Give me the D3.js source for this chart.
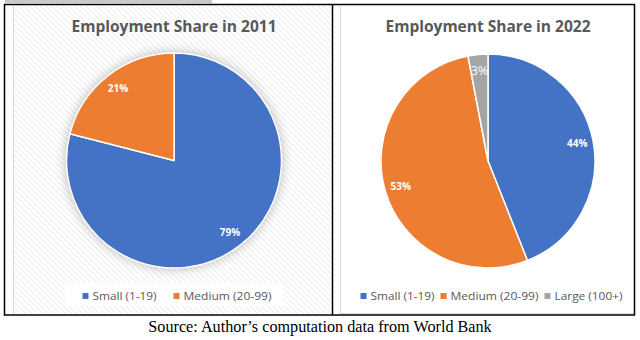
<!DOCTYPE html>
<html>
<head>
<meta charset="utf-8">
<script src="https://cdn.jsdelivr.net/npm/d3@7"></script>
<style>
  html, body { margin: 0; padding: 0; background: #fff; }
  svg { display: block; }
</style>
</head>
<body>
<script>
// ---- data ----
const titles = ["Employment Share in 2011", "Employment Share in 2022"];
const categories2011 = ["Small (1-19)", "Medium (20-99)"];
const values2011 = [79, 21];
const categories2022 = ["Small (1-19)", "Medium (20-99)", "Large (100+)"];
const values2022 = [44, 53, 3];
const seriesColors = ["#4472C4", "#ED7D31", "#A5A5A5"];
const caption = "Source: Author\u2019s computation data from World Bank";

const W = 640, H = 340;
const svg = d3.select("body").append("svg").attr("width", W).attr("height", H);
const defs = svg.append("defs");

// hatch pattern
const pat = defs.append("pattern").attr("id", "hatch").attr("patternUnits", "userSpaceOnUse")
  .attr("width", 4).attr("height", 4).attr("patternTransform", "rotate(-45)");
pat.append("rect").attr("width", 4).attr("height", 4).attr("fill", "#ffffff");
pat.append("line").attr("x1", 0).attr("y1", 0).attr("x2", 0).attr("y2", 4)
  .attr("stroke", "#e6e6e6").attr("stroke-width", 1.4);

const shadow = defs.append("filter").attr("id", "glow")
  .attr("x", "-30%").attr("y", "-30%").attr("width", "160%").attr("height", "160%");
shadow.append("feDropShadow").attr("dx", 0).attr("dy", 0).attr("stdDeviation", 6)
  .attr("flood-color", "#000").attr("flood-opacity", 0.3);

svg.append("rect").attr("width", W).attr("height", H).attr("fill", "#fff");

// top grey strip
svg.append("rect").attr("x", 5).attr("y", 0).attr("width", 207).attr("height", 3).attr("fill", "#c9c9c9");

// left panel background
svg.append("rect").attr("x", 13).attr("y", 5).attr("width", 319).attr("height", 309).attr("fill", "url(#hatch)");
svg.append("line").attr("x1", 13.5).attr("x2", 13.5).attr("y1", 5).attr("y2", 314)
  .attr("stroke", "#d9d9d9").attr("stroke-width", 1);

// right panel frame
svg.append("line").attr("x1", 340.5).attr("x2", 340.5).attr("y1", 5).attr("y2", 313.5)
  .attr("stroke", "#d9d9d9").attr("stroke-width", 1);
svg.append("line").attr("x1", 340).attr("x2", 634).attr("y1", 313.5).attr("y2", 313.5)
  .attr("stroke", "#d9d9d9").attr("stroke-width", 1);

const font = "'Open Sans', 'DejaVu Sans', sans-serif";

function drawChart(cfg) {
  const g = svg.append("g");
  // title
  g.append("text").attr("x", cfg.cx).attr("y", 32).attr("text-anchor", "middle")
    .attr("font-family", font).attr("font-weight", 700).attr("font-size", 16.5)
    .attr("fill", "#595959").attr("textLength", 205).attr("lengthAdjust", "spacingAndGlyphs")
    .text(cfg.title);

  const pie = d3.pie().sort(null).value(d => d);
  const arcs = pie(cfg.values);
  const arc = d3.arc().innerRadius(0).outerRadius(cfg.r);
  const labelArc = d3.arc().innerRadius(cfg.r * 0.85).outerRadius(cfg.r * 0.85);
  const pg = g.append("g").attr("transform", `translate(${cfg.cx},${cfg.cy})`);
  if (cfg.shadow) {
    pg.append("circle").attr("r", cfg.r).attr("fill", seriesColors[0]).attr("filter", "url(#glow)");
  }
  pg.selectAll("path.slice").data(arcs).join("path").attr("class", "slice")
    .attr("d", arc).attr("fill", (d, i) => seriesColors[i])
    .attr("stroke", "#fff").attr("stroke-width", 1.5).attr("stroke-linejoin", "round");
  const total = d3.sum(cfg.values);
  pg.selectAll("text.lbl").data(arcs).join("text").attr("class", "lbl")
    .attr("transform", d => `translate(${labelArc.centroid(d)})`)
    .attr("text-anchor", "middle").attr("dy", "0.35em")
    .attr("font-family", font)
    .attr("font-weight", d => d.data / total < 0.05 ? 400 : 700)
    .attr("font-size", d => d.data / total < 0.05 ? 12.5 : 10)
    .attr("fill", "#fff")
    .text(d => Math.round(d.data / total * 100) + "%");

  // legend
  if (cfg.legendBox) {
    g.append("rect").attr("x", cfg.legendBox[0]).attr("y", 283)
      .attr("width", cfg.legendBox[1] - cfg.legendBox[0]).attr("height", 23)
      .attr("fill", "#fff").attr("opacity", 0.92);
  }
  const widths = cfg.categories.map(c => c.startsWith("Small") ? 64 : c.startsWith("Medium") ? 88 : 68);
  const sq = 6, gapT = 4;
  let total_w = 0;
  widths.forEach((w, i) => { total_w += sq + gapT + w + (i < widths.length - 1 ? cfg.spacing : 0); });
  let x = cfg.legendCx - total_w / 2;
  cfg.categories.forEach((c, i) => {
    g.append("rect").attr("x", x).attr("y", 293).attr("width", sq).attr("height", sq).attr("fill", seriesColors[i]);
    g.append("text").attr("x", x + sq + gapT).attr("y", 300)
      .attr("font-family", font).attr("font-size", 11).attr("fill", "#595959")
      .attr("textLength", widths[i]).attr("lengthAdjust", "spacingAndGlyphs").text(c);
    x += sq + gapT + widths[i] + cfg.spacing;
  });
}

drawChart({ title: titles[0], values: values2011, categories: categories2011, cx: 174, cy: 160.5, r: 107.5,
  shadow: true, legendBox: [65, 283], legendCx: 177, spacing: 17 });
drawChart({ title: titles[1], values: values2022, categories: categories2022, cx: 488, cy: 161, r: 107,
  shadow: false, legendBox: null, legendCx: 491.5, spacing: 6 });

// table borders
svg.append("rect").attr("x", 4.5).attr("y", 4.5).attr("width", 630).attr("height", 310.5)
  .attr("fill", "none").attr("stroke", "#000").attr("stroke-width", 1.5);
svg.append("line").attr("x1", 332.5).attr("x2", 332.5).attr("y1", 4.5).attr("y2", 315)
  .attr("stroke", "#000").attr("stroke-width", 1.5);

// caption
svg.append("text").attr("x", 320).attr("y", 331.5).attr("text-anchor", "middle")
  .attr("font-family", "'Liberation Serif', 'Times New Roman', serif").attr("font-size", 16.2)
  .attr("fill", "#000").text(caption);
</script>
</body>
</html>
